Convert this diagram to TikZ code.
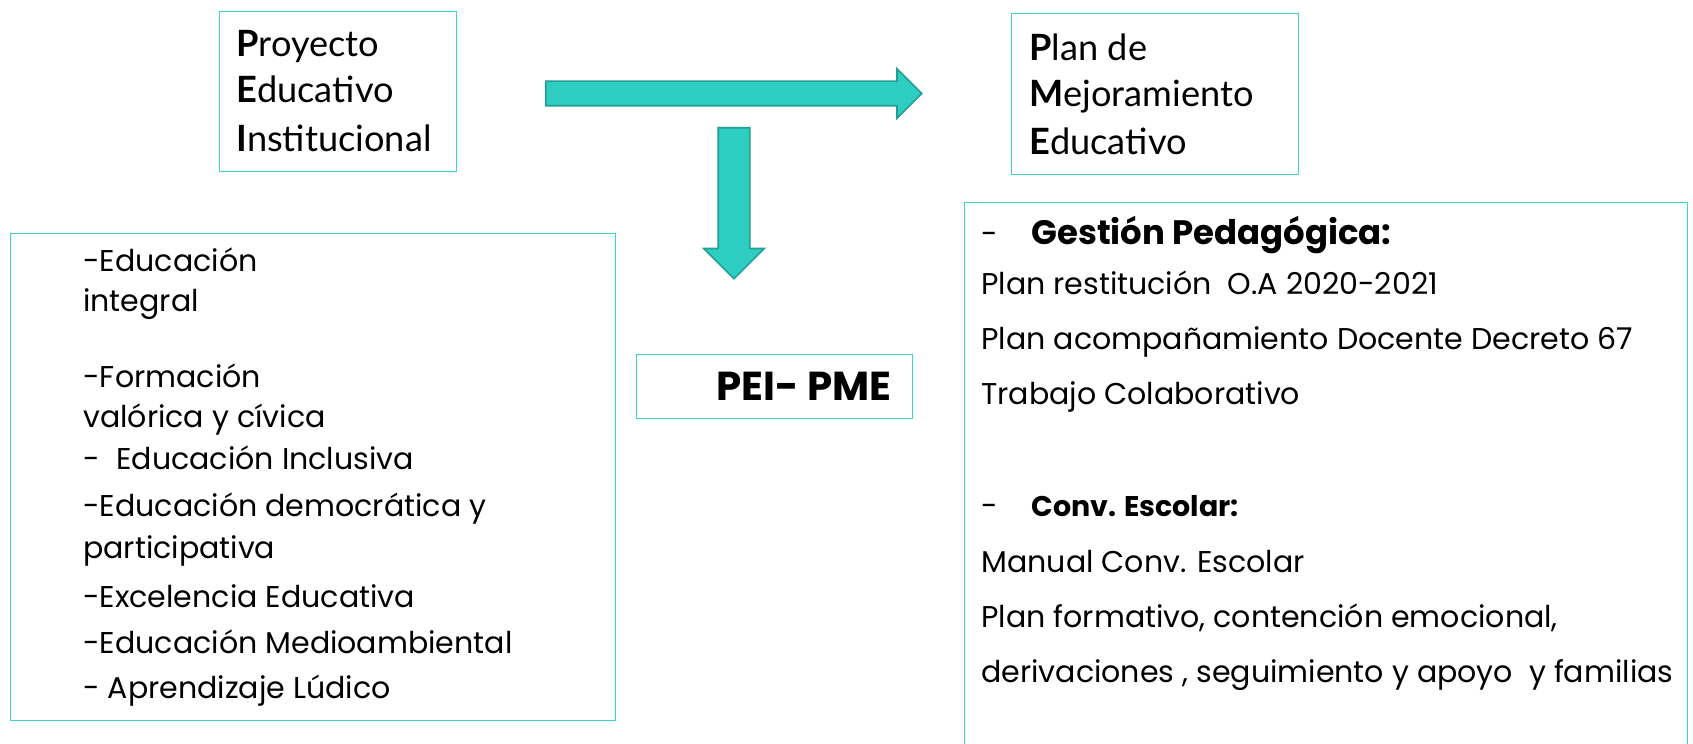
\documentclass[tikz,border=0pt]{standalone}
\usepackage{fontspec}
\usepackage{xcolor}
\usepackage{tikz}
\usetikzlibrary{shapes.arrows}
\usetikzlibrary{positioning}

\newfontfamily\gillfont{Lato}
\newfontfamily\gothic{Poppins}

\definecolor{borde}{HTML}{3DD5CA}
\definecolor{flechafill}{HTML}{2DCDC2}
\definecolor{flechaline}{HTML}{239E95}

\tikzset{
  caja/.style={rectangle, draw=borde, line width=0.8pt, anchor=north west, inner sep=0pt},
  titulo/.style={anchor=base west, inner sep=0pt, font=\gillfont\fontsize{20.6}{24}\selectfont},
  texto/.style={anchor=base west, inner sep=0pt, font=\gothic\fontsize{17.1}{20}\selectfont},
  negrita/.style={anchor=base west, inner sep=0pt, font=\gothic\bfseries\fontsize{19.3}{23}\selectfont},
  flecha/.style={single arrow, draw=flechaline, fill=flechafill, line width=0.9pt, single arrow head indent=0pt, inner xsep=0pt, anchor=tail}
}

\begin{document}
\begin{tikzpicture}

\useasboundingbox (0,0) rectangle (33.86,14.86);
\clip (0,0) rectangle (33.86,14.86);

% boxes
\node at (4.38,14.64)[caja, minimum width=4.74cm, minimum height=3.20cm] (pei) {};
\node at (20.22,14.60)[caja, minimum width=5.74cm, minimum height=3.22cm] (pme) {};
\node at (0.20,10.20)[caja, minimum width=12.10cm, minimum height=9.74cm] (valores) {};
\node at (12.72,7.78)[caja, minimum width=5.52cm, minimum height=1.28cm] (peipme) {};
\node at (19.28,10.82)[caja, minimum width=14.46cm, minimum height=11.40cm] (gestion) {};

% arrows
\node at (10.90,12.99)[flecha, inner ysep=0.23cm, minimum height=7.52cm, single arrow head extend=0.25cm] (derecha) {};
\node at (14.68,12.32)[flecha, rotate=-90, inner ysep=0.30cm, minimum height=3.02cm, single arrow head extend=0.29cm] (abajo) {};

% titles
\node[titulo] at (4.72,13.72) (pei1) {\textbf{P}royecto};
\node[titulo] at (4.72,12.80) (pei2) {\textbf{E}ducativo};
\node[titulo] at (4.72,11.82) (pei3) {\textbf{I}nstitucional};
\node[titulo] at (20.58,13.64) (pme1) {\textbf{P}lan de};
\node[titulo] at (20.58,12.72) (pme2) {\textbf{M}ejoramiento};
\node[titulo] at (20.58,11.76) (pme3) {\textbf{E}ducativo};

\node[negrita, anchor=base east, font=\gothic\bfseries\fontsize{23}{27}\selectfont] at (17.84,6.84) (sigla) {PEI- PME};

% left box
\node[texto] at (1.66,9.42) (v1) {-Educación};
\node[texto] at (1.66,8.62) (v2) {integral};
\node[texto] at (1.66,7.10) (v3) {-Formación};
\node[texto] at (1.66,6.30) (v4) {valórica y cívica};
\node[texto] at (1.66,5.46) (v5) {-\hspace{0.55em}Educación Inclusiva};
\node[texto] at (1.66,4.52) (v6) {-Educación democrática y};
\node[texto] at (1.66,3.70) (v7) {participativa};
\node[texto] at (1.66,2.72) (v8) {-Excelencia Educativa};
\node[texto] at (1.66,1.80) (v9) {-Educación Medioambiental};
\node[texto] at (1.66,0.90) (v10) {- Aprendizaje Lúdico};

% right box
\node[texto] at (19.62,9.96) (g0) {-};
\node[negrita] at (20.62,9.96) (g1) {Gestión Pedagógica:};
\node[texto] at (19.62,8.96) (g2) {Plan restitución~ O.A 2020-2021};
\node[texto] at (19.62,7.86) (g3) {Plan acompañamiento Docente Decreto 67};
\node[texto] at (19.62,6.76) (g4) {Trabajo Colaborativo};
\node[texto] at (19.62,4.52) (c0) {-};
\node[negrita, font=\gothic\bfseries\fontsize{16.2}{19}\selectfont] at (20.62,4.52) (c1) {Conv. Escolar:};
\node[texto] at (19.62,3.42) (c2) {Manual Conv. Escolar};
\node[texto] at (19.62,2.32) (c3) {Plan formativo, contención emocional,};
\node[texto] at (19.62,1.22) (c4) {derivaciones , seguimiento y apoyo~ y familias};

\end{tikzpicture}
\end{document}
